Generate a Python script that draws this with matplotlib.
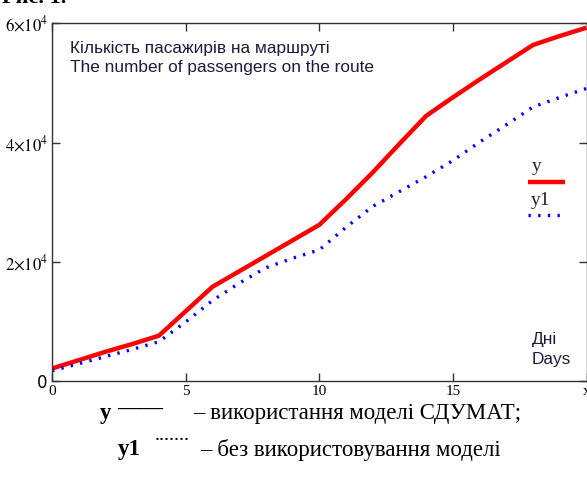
import matplotlib
matplotlib.use('Agg')
import matplotlib.pyplot as plt

plt.rcParams['mathtext.fontset'] = 'stix'

# дані (дні 0..20)
days = list(range(21))
y_model = [2100, 3500, 4900, 6200, 7600, 11700, 15800, 18400, 21000, 23600,
           26200, 30500, 35000, 39800, 44500, 47600, 50600, 53500, 56400, 57900, 59300]
y1_nomodel = [1700, 2900, 4100, 5300, 6600, 9900, 13500, 16400, 19000, 20600,
              22000, 25800, 29300, 31800, 34300, 37000, 40100, 43000, 46000, 47600, 49100]

x_ticks = [0, 5, 10, 15, 20]
x_labels = ['0', '5', '10', '15', 'x']
y_ticks = [0, 20000, 40000, 60000]
y_labels = ['0', r'$2{\times}10^{4}$', r'$4{\times}10^{4}$', r'$6{\times}10^{4}$']

serif = 'Liberation Serif'
sans = 'Liberation Sans'

W, H = 587, 478
fig = plt.figure(figsize=(W / 100, H / 100), dpi=100)
ax = fig.add_axes([52 / W, (H - 381) / H, (586.5 - 52) / W, (381 - 23.5) / H])

ax.plot(days, y_model, color='#ff0000', lw=3.2, solid_capstyle='butt')
ax.plot(days, y1_nomodel, color='#0000ff', lw=2.4, linestyle=(0, (0.7, 2.2)))

ax.set_xlim(0, 20)
ax.set_ylim(0, 60000)
ax.set_xticks(x_ticks)
ax.set_xticklabels(x_labels, fontfamily=serif, fontsize=11)
ax.set_yticks(y_ticks)
ax.set_yticklabels(y_labels, fontsize=12)
ax.tick_params(direction='in', top=True, right=True, length=6, width=1,
               color='#333333', pad=3)
for s in ax.spines.values():
    s.set_color('#333333')
    s.set_linewidth(1)

# підписи всередині графіка
txt_col = '#1c1c3a'
ax.text(0.034, 0.931, 'Кількість пасажирів на маршруті', transform=ax.transAxes,
        fontfamily=sans, fontsize=12.4, color=txt_col, va='center')
ax.text(0.034, 0.876, 'The number of passengers on the route', transform=ax.transAxes,
        fontfamily=sans, fontsize=12.4, color=txt_col, va='center')
ax.text(0.898, 0.117, 'Дні', transform=ax.transAxes,
        fontfamily=sans, fontsize=12.4, color=txt_col, va='center')
ax.text(0.898, 0.059, 'Days', transform=ax.transAxes,
        fontfamily=sans, fontsize=12.4, color=txt_col, va='center')

# легенда в стилі Mathcad
ax.text(0.907, 0.60, 'y', transform=ax.transAxes, fontfamily=serif,
        fontsize=14, va='center', ha='center', color='#222222')
ax.plot([0.891, 0.960], [0.557, 0.557], transform=ax.transAxes,
        color='#ff0000', lw=3.2, solid_capstyle='butt')
ax.text(0.915, 0.506, 'y1', transform=ax.transAxes, fontfamily=serif,
        fontsize=14, va='center', ha='center', color='#222222')
ax.plot([0.891, 0.950], [0.464, 0.464], transform=ax.transAxes,
        color='#0000ff', lw=2.4, linestyle=(0, (0.7, 2.2)))

# підпис під графіком
fig.text(66 / W, 1 - 3 / H, 'Рис. 1.', fontfamily=serif, fontsize=16,
         fontweight='bold', ha='right', va='baseline')
y1c = 1 - 413 / H
y2c = 1 - 450 / H
fig.text(100 / W, y1c, 'y', fontfamily=serif, fontsize=16.5, fontweight='bold', va='center')
fig.text(117 / W, y1c + 0.008, '——', fontfamily=serif, fontsize=16.5,
         fontweight='bold', va='center')
fig.text(193 / W, y1c, '– використання моделі СДУМАТ;', fontfamily=serif,
         fontsize=16.5, va='center')
fig.text(118 / W, y2c, 'y1', fontfamily=serif, fontsize=16.5, fontweight='bold', va='center')
fig.text(155 / W, y2c + 0.02, '·······', fontfamily=serif, fontsize=11,
         fontweight='bold', va='center')
fig.text(200 / W, y2c, '– без використовування моделі', fontfamily=serif,
         fontsize=16.5, va='center')

fig.savefig('out.png', dpi=100)
plt.close(fig)
